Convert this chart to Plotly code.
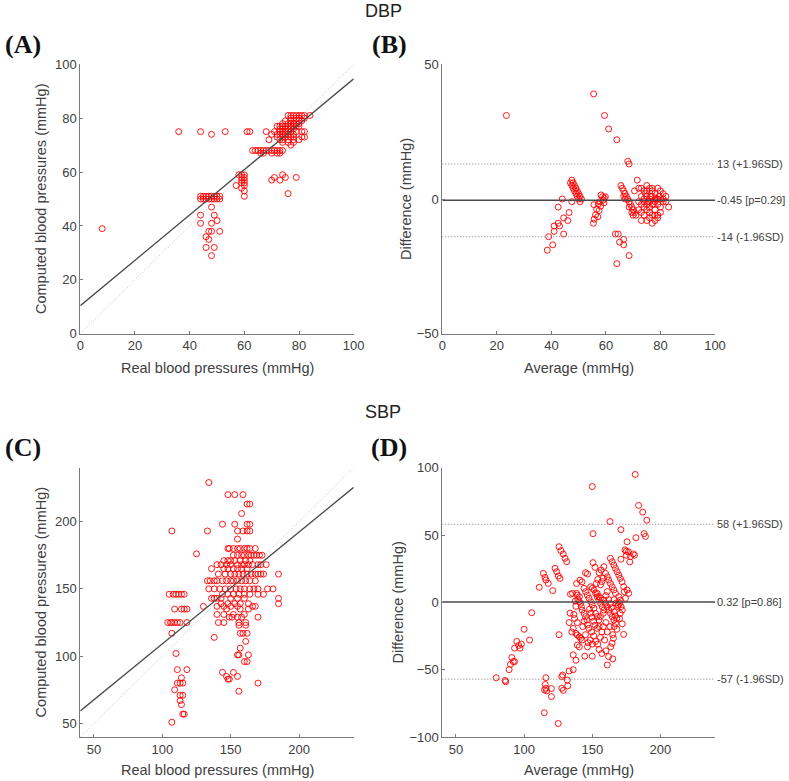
import plotly.graph_objects as go

# ---------------- DATA ----------------
# Panel A (DBP): real vs computed
a_real = [
    76, 77, 78, 79, 80, 81, 82, 84,
    77, 79, 80, 82,
    75, 77, 78, 80, 81,
    74, 76, 77, 78, 79, 80,
    72, 73, 74, 75, 76, 77, 78, 79, 80,
    73, 74, 75, 76, 77, 78,
    36, 44, 53, 61, 62, 68, 71, 73, 74, 75, 76, 77, 79, 81, 82,
    48, 70, 72, 73, 74, 75, 76, 78,
    72, 74, 75, 77, 78, 81, 82,
    69, 73, 74, 76, 78, 80,
    74, 76, 78,
    77,
    63, 64, 65, 66, 67, 68, 69, 70, 71, 72, 73, 74,
    66, 67, 70, 72, 73,
    58, 59, 60, 74,
    59, 60, 71, 75, 79,
    59, 60, 70, 73,
    59, 60,
    57, 60,
    59,
    60,
    76,
    44, 45, 46, 47, 48, 49, 50, 51, 60,
    44, 45, 46, 47, 48, 49, 50, 51,
    48, 44, 49, 50, 44, 48, 8, 47, 48, 51, 46, 47, 46, 49, 48,
]
a_comp = [
    81, 81, 81, 81, 81, 81, 81, 81,
    80, 80, 80, 80,
    79, 79, 79, 79, 79,
    78, 78, 78, 78, 78, 78,
    77, 77, 77, 77, 77, 77, 77, 77, 77,
    76, 76, 76, 76, 76, 76,
    75, 75, 75, 75, 75, 75, 75, 75, 75, 75, 75, 75, 75, 75, 75,
    74, 74, 74, 74, 74, 74, 74, 74,
    73, 73, 73, 73, 73, 73, 73,
    72, 72, 72, 72, 72, 72,
    71, 71, 71,
    70,
    68, 68, 68, 68, 68, 68, 68, 68, 68, 68, 68, 68,
    67, 67, 67, 67, 67,
    59, 59, 59, 59,
    58, 58, 58, 58, 58,
    57, 57, 57, 57,
    56, 56,
    55, 55,
    54,
    53,
    52,
    51, 51, 51, 51, 51, 51, 51, 51, 51,
    50, 50, 50, 50, 50, 50, 50, 50,
    47, 44, 44, 42, 41, 41, 39, 38, 38, 38, 36, 35, 32, 32, 29,
]
a_fit_x = [0, 100]
a_fit_y = [10.4, 94.6]

# Panel B (DBP Bland-Altman): average vs difference
b_avg = [
    23.5, 55.5, 59.5, 61, 64, 68, 68.5,
    47.5, 48, 48.5, 49, 49.5, 50, 50.5, 51, 47, 47.5, 48, 48.5, 49, 49.5, 50, 50.5, 47.5,
    44, 42.5, 46.5, 44.5, 46, 42.5, 43, 41, 41, 44.5, 39, 40.5, 38.5,
    58.2, 58.8, 59.4, 59.0, 57.8, 59.3, 57.2, 58.1, 56.6, 57.5, 56.2, 57.0, 55.7, 55.4, 55.6, 59.8,
    65.5, 66, 66.5, 67, 67.5, 68, 68.5, 69, 69.5, 70, 70.5, 71, 66.5, 67, 68.5, 69.5, 70,
    63.5, 64.5, 65, 66.5, 66.5, 68.5, 64,
    71.5, 70.5, 72, 73, 74, 75, 76, 77, 78, 79, 80, 81, 82,
    73, 74, 75, 76, 77, 78, 79, 80, 81, 82, 83,
    72, 73, 74, 75, 76, 77, 78, 79, 80, 81,
    72, 73, 74, 75, 76, 77, 78, 79,
    73, 75, 76, 77, 78, 79, 74, 76, 77, 75, 78, 80, 74.5, 75.5, 76.5, 77.5, 78.5, 79.5,
]
b_diff = [
    31, 39, 31, 26, 22, 14, 13,
    7, 6, 5, 4, 3, 2, 1, 0, 6, 5, 4, 3, 2, 1, 0, -1, -1,
    0, -3, -5, -7, -8, -9, -10, -10, -12, -13, -14, -17, -19,
    1.5, 0.9, 0.3, -0.4, -1.0, -1.4, -1.9, -2.6, -3.8, -4.3, -5.9, -6.6, -7.5, -9.0, -2.1, 0.8,
    5, 4, 3, 2, 1, 0, -1, -2, -3, -4, -5, -6, 1, 0, -3, -5, -6,
    -13, -13, -16, -15, -17, -21, -24,
    7, 3, 4, 4, 3, 5, 4, 3, 2, 4, 3, 2, 1,
    1, 0, 1, 0, 1, 0, 0, 0, 0, -1, -3,
    -1, -2, -3, -2, -3, -2, -1, -2, -3, -1,
    -4, -5, -6, -4, -5, -6, -4, -7,
    -8, -8, -7, -9, -8, -6, -1, -1, 4, 3, -6, -5, 2, -1, 1, -2, 0, 1,
]
b_mean, b_upper, b_lower = -0.45, 13, -14
b_p = 0.29

# Panel C (SBP): real vs computed
c_real = [
    134,
    148, 153, 159,
    162, 164,
    158,
    144, 153, 162, 164,
    107, 133, 155, 159, 162, 164,
    155,
    148, 149, 152, 155, 157, 160, 162, 164, 168,
    125,
    152, 155, 158, 160, 163, 165, 167, 169, 171, 173,
    145, 148, 150, 153, 157, 161, 164,
    140, 143, 147, 150, 155, 158, 160, 163, 166, 170, 172, 176,
    136, 145, 148, 152, 155, 158, 162,
    141, 146, 150, 153, 156, 159, 162, 165, 168, 170, 172, 174, 185,
    133, 135, 138, 140, 144, 147, 150, 152, 155, 158, 161, 164, 168,
    134, 138, 142, 146, 150, 154, 157, 160, 164, 167, 170, 177, 181,
    105, 108, 110, 112, 114, 116, 144, 148, 152, 156, 160, 164, 170, 174,
    136, 138, 140, 143, 150, 155, 160, 185,
    143, 148, 153, 157, 163, 185,
    130, 140, 145, 150, 155, 166, 168,
    109, 114, 116, 118, 147, 157, 163,
    140, 145, 152, 160,
    149, 151, 155, 158, 170,
    104, 106, 107, 109, 111, 113, 118, 141, 145, 156, 161,
    156, 161,
    107, 157, 159, 162,
    138,
    161,
    157,
    110,
    155, 156, 163,
    160, 162,
    111, 118,
    144, 152,
    147, 155,
    114,
    148, 149,
    111, 113, 115, 170,
    109,
    156,
    113, 115,
    113,
    114,
    115, 116,
    107,
]
c_comp = [
    229,
    220, 220, 220,
    213, 213,
    206,
    198, 198, 198, 198,
    193, 193, 193, 193, 193, 193,
    187,
    180, 180, 180, 180, 180, 180, 180, 180, 180,
    176,
    175, 175, 175, 175, 175, 175, 175, 175, 175, 175,
    171, 171, 171, 171, 171, 171, 171,
    168, 168, 168, 168, 168, 168, 168, 168, 168, 168, 168, 168,
    165, 165, 165, 165, 165, 165, 165,
    161, 161, 161, 161, 161, 161, 161, 161, 161, 161, 161, 161, 161,
    156, 156, 156, 156, 156, 156, 156, 156, 156, 156, 156, 156, 156,
    150, 150, 150, 150, 150, 150, 150, 150, 150, 150, 150, 150, 150,
    146, 146, 146, 146, 146, 146, 146, 146, 146, 146, 146, 146, 146, 146,
    143, 143, 143, 143, 143, 143, 143, 143,
    139, 139, 139, 139, 139, 139,
    137, 137, 137, 137, 137, 137, 137,
    135, 135, 135, 135, 135, 135, 135,
    131, 131, 131, 131,
    129, 129, 129, 129, 129,
    125, 125, 125, 125, 125, 125, 125, 125, 125, 125, 125,
    123, 123,
    117, 117, 117, 117,
    114,
    111,
    106,
    102,
    101, 101, 101,
    96, 96,
    90, 90,
    88, 88,
    85, 85,
    84,
    83, 83,
    80, 80, 80, 80,
    75,
    74,
    71, 71,
    67,
    64,
    57, 57,
    51,
]
c_fit_x = [40, 240]
c_fit_y = [59.4, 225.4]

# Panel D (SBP Bland-Altman): average vs difference
d_avg = [
    181.5, 150, 184, 187, 190, 163, 171, 150.5, 188, 189, 182, 175.5,
    174, 175, 176.5, 178, 177.5, 180, 181, 175, 171,
    150.5, 158.5, 145, 146.5, 141, 142.5, 138.5, 135.5, 138.5, 139, 140.5, 140.5, 141.5, 142, 142.5, 144, 145, 146, 146.5, 147.5,
    138, 139, 140.5, 141.5, 142.5, 139, 140.5, 136, 138, 146.5, 148.5, 150, 153.5, 155, 156, 158, 162, 161,
    163.5, 164.5, 165.5, 166, 167, 173, 170.5, 172,
    159.7, 161, 162, 163.3, 164.6, 165.8, 167,
    163.3, 164.6, 165.8, 167, 168.2, 169.4, 170.6, 171.8, 173, 173.5, 174.3,
    148.8, 150, 151.2, 152.4, 153.6, 154.9, 156.1, 157.3, 158.5,
    143.9, 145.1, 146.4, 147.6, 148.8, 150, 151.2,
    153.6, 154.9, 156.1, 158.5, 159.7, 160.9, 162.1, 163.3, 164.6, 165.8,
    152.4, 153.6, 154.9,
    169.4, 170.6, 170.1, 171.1, 175.5, 176.7,
    156, 157, 158, 155, 156.5, 152, 153, 154, 160, 161, 162, 163, 164, 166, 167, 168, 169, 166, 167.5, 168.5,
    148, 149, 150, 151, 152, 149.5, 151, 152.5, 154, 156, 157, 158, 160, 159, 161, 163, 144, 143, 145, 147, 144.5,
    137, 139, 136.5, 138, 139.5, 137.5, 133.7, 134, 133, 136, 135,
    155, 157, 160, 165, 170, 168, 172, 150, 165,
    125.6, 127, 128.7, 130, 131.2, 122.7, 123.9, 125.1, 126.3, 114.1, 115.3, 116, 117.7, 111.1, 121,
    105.6, 100, 104, 94.6, 98, 96, 97, 93, 91, 92, 93, 90, 89, 79.5, 86, 86.5,
    116, 115.5, 116, 116.5, 115, 120, 120, 128.3, 127.6, 131.7, 127.6, 128.7, 132, 133, 136, 114.8, 125, 125.6,
]
d_diff = [
    95, 86, 72, 67, 61, 60, 54, 51, 51, 49, 48, 45,
    39, 38, 37.5, 34, 30, 36, 35, 35, 32,
    29.5, 26.5, 22, 21, 16.5, 15.3, 14, 6.7, 6.7, 5.4, 4.2, 0.5, -0.7, -3.2, -5.7, -8.2, -10.6, -13, -16.8, -19.3,
    -23, -24.3, -25.5, -26.7, -28, -31.7, -33, -39, -43, -33, -28, -40, -19.3, -18, -10.6, -8.2, -40.3, -46.5,
    -33, -30.4, -26.7, -18, -15.6, -23.8, -8.2, -5.7,
    21.5, 19, 16.6, 14.1, 11.6, 9.2, 6.7,
    32.7, 30.2, 27.7, 25.2, 22.8, 20.3, 17.8, 15.3, 11.6, 7.9, 3,
    11.6, 10.4, 9.2, 6.7, 4.2, 1.7, -0.7, -3.2, -5.7,
    10.4, 7.9, 5.4, 3, 0.5, -2, -4.4,
    6.7, 4.2, 3, 1.7, -0.7, -3.2, -5.7, -8.2, -10.6, -13.1,
    -8.2, -10.6, -13.1,
    4.2, 1.7, -0.7, -3.2, 9.2, 6.7,
    13, 15.5, 18, 22, 24, 26, 14, 17, 5, 8, 2, -1, -4, -7, -10, -12, -2, 2, -0.5, -3,
    -5, -8, -11, -14, -17, -22, -25, -29, -31, -26, -22, -18, -15, -28, -22, -18, -14, -18, -24, -30, -40,
    -12, -15, -9, -3, 2, 1, -8, 6, -15, -19.3, -22,
    -35, -38, -36, -24, -12, -20, -16, -31, -42,
    41.3, 38.4, 35.9, 32.7, 30.2, 25.3, 22.8, 19.6, 17.8, 21.5, 18.6, 16.6, 14.1, 11.2, 8.7,
    -7.7, -20, -28, -29, -31, -32, -34, -34, -41, -44, -44, -46, -50, -56, -58, -59,
    -56, -61, -63.8, -65.8, -65, -64, -70, -54, -55.2, -57.7, -63.8, -65.4, -62, -51, -50, -82, -90, -24,
]
d_mean, d_upper, d_lower = 0.32, 58, -57
d_p = 0.86

# axis ranges / ticks
dbp_range = [0, 100]
dbp_ticks = [0, 20, 40, 60, 80, 100]
bdiff_range = [-50, 50]
bdiff_ticks = [-50, 0, 50]
sbp_range = [40, 240]
sbp_ticks = [50, 100, 150, 200]
ddiff_range = [-100, 100]
ddiff_ticks = [-100, -50, 0, 50, 100]

# ---------------- FIGURE ----------------
W, H = 789, 781
FONT = "Liberation Sans, Arial, sans-serif"
SERIF = "Liberation Serif, Times New Roman, serif"
RED = "rgba(255,0,0,0.9)"
TXT = "#404040"
AXC = "#7a7a7a"
DOTS = "1px,2px"


def px(x):
    return x / W


def py(y):
    return 1 - y / H


left_dom = [px(80.3), px(353.7)]
right_dom = [px(442.3), px(715.0)]
top_dom = [py(333.7), py(64.3)]
bot_dom = [py(737.0), py(467.7)]

fig = go.Figure()

marker = dict(symbol="circle-open", size=6, color=RED, line=dict(width=1, color=RED))


def scatter(x, y, xa, ya):
    fig.add_trace(go.Scatter(x=x, y=y, mode="markers", marker=marker,
                             xaxis=xa, yaxis=ya, showlegend=False, hoverinfo="x+y"))


def line(x, y, xa, ya, color, width, dash="solid"):
    fig.add_trace(go.Scatter(x=x, y=y, mode="lines", line=dict(color=color, width=width, dash=dash),
                             xaxis=xa, yaxis=ya, showlegend=False, hoverinfo="skip"))


# Panel A
scatter(a_real, a_comp, "x", "y")
line(dbp_range, dbp_range, "x", "y", "#bfbfbf", 1, DOTS)
line(a_fit_x, a_fit_y, "x", "y", "#4a4a4a", 1.3)

# Panel B
scatter(b_avg, b_diff, "x2", "y2")
line(dbp_range, [b_upper, b_upper], "x2", "y2", "#7a7a7a", 1, DOTS)
line(dbp_range, [b_lower, b_lower], "x2", "y2", "#7a7a7a", 1, DOTS)
line(dbp_range, [b_mean, b_mean], "x2", "y2", "#4a4a4a", 1.5)

# Panel C
scatter(c_real, c_comp, "x3", "y3")
line(sbp_range, sbp_range, "x3", "y3", "#bfbfbf", 1, DOTS)
line(c_fit_x, c_fit_y, "x3", "y3", "#4a4a4a", 1.3)

# Panel D
scatter(d_avg, d_diff, "x4", "y4")
line(sbp_range, [d_upper, d_upper], "x4", "y4", "#7a7a7a", 1, DOTS)
line(sbp_range, [d_lower, d_lower], "x4", "y4", "#7a7a7a", 1, DOTS)
line(sbp_range, [d_mean, d_mean], "x4", "y4", "#4a4a4a", 1.5)

axis_common = dict(showline=True, linecolor=AXC, linewidth=1, ticks="inside", ticklen=3,
                   tickcolor=AXC, showgrid=False, zeroline=False, mirror=False, automargin=False,
                   tickfont=dict(family=FONT, size=13, color=TXT), fixedrange=True)

fig.update_layout(
    template="none",
    width=W, height=H, margin=dict(l=0, r=0, t=0, b=0, pad=0),
    paper_bgcolor="white", plot_bgcolor="white", showlegend=False,
    xaxis=dict(domain=left_dom, range=dbp_range, tickvals=dbp_ticks, anchor="y", **axis_common),
    yaxis=dict(domain=top_dom, range=dbp_range, tickvals=dbp_ticks, anchor="x", **axis_common),
    xaxis2=dict(domain=right_dom, range=dbp_range, tickvals=dbp_ticks, anchor="y2", **axis_common),
    yaxis2=dict(domain=top_dom, range=bdiff_range, tickvals=bdiff_ticks, anchor="x2", **axis_common),
    xaxis3=dict(domain=left_dom, range=sbp_range, tickvals=sbp_ticks, anchor="y3", **axis_common),
    yaxis3=dict(domain=bot_dom, range=sbp_range, tickvals=sbp_ticks, anchor="x3", **axis_common),
    xaxis4=dict(domain=right_dom, range=sbp_range, tickvals=sbp_ticks, anchor="y4", **axis_common),
    yaxis4=dict(domain=bot_dom, range=ddiff_range, tickvals=ddiff_ticks, anchor="x4", **axis_common),
)

ann = []


def text(x, y, s, size, color=TXT, family=FONT, angle=0, bold=False):
    if bold:
        s = "<b>" + s + "</b>"
    ann.append(dict(x=px(x), y=py(y), xref="paper", yref="paper", text=s, showarrow=False,
                    xanchor="center", yanchor="middle", textangle=angle,
                    font=dict(family=family, size=size, color=color)))


# section titles
text(383, 11, "DBP", 18, "#222")
text(383, 412, "SBP", 18, "#222")
# panel labels
text(23, 45, "(A)", 26, "#111", SERIF, bold=True)
text(389, 45, "(B)", 26, "#111", SERIF, bold=True)
text(23, 447, "(C)", 26, "#111", SERIF, bold=True)
text(389, 447, "(D)", 26, "#111", SERIF, bold=True)
# axis titles
text(217, 368, "Real blood pressures (mmHg)", 14.5)
text(578.7, 368, "Average (mmHg)", 14.5)
text(217, 770, "Real blood pressures (mmHg)", 14.5)
text(578.7, 770, "Average (mmHg)", 14.5)
text(41, 199, "Computed blood pressures (mmHg)", 14.5, angle=-90)
text(406, 199, "Difference (mmHg)", 14.5, angle=-90)
text(41, 602.4, "Computed blood pressures (mmHg)", 14.5, angle=-90)
text(398, 602.4, "Difference (mmHg)", 14.5, angle=-90)


def side_label(val, s, yref, xref):
    ann.append(dict(x=1, y=val, xref=xref + " domain", yref=yref, text=s, showarrow=False,
                    xanchor="left", yanchor="middle", xshift=0,
                    font=dict(family=FONT, size=11, color=TXT)))


side_label(b_upper, f"{b_upper} (+1.96SD)", "y2", "x2")
side_label(b_mean, f"{b_mean} [p={b_p}]", "y2", "x2")
side_label(b_lower, f"{b_lower} (-1.96SD)", "y2", "x2")
side_label(d_upper, f"{d_upper} (+1.96SD)", "y4", "x4")
side_label(d_mean, f"{d_mean} [p={d_p}]", "y4", "x4")
side_label(d_lower, f"{d_lower} (-1.96SD)", "y4", "x4")

fig.update_layout(annotations=ann)

fig.write_html("out.html", config={"displayModeBar": False},
               post_script="document.body.style.margin='0px';document.body.style.overflow='hidden';")
